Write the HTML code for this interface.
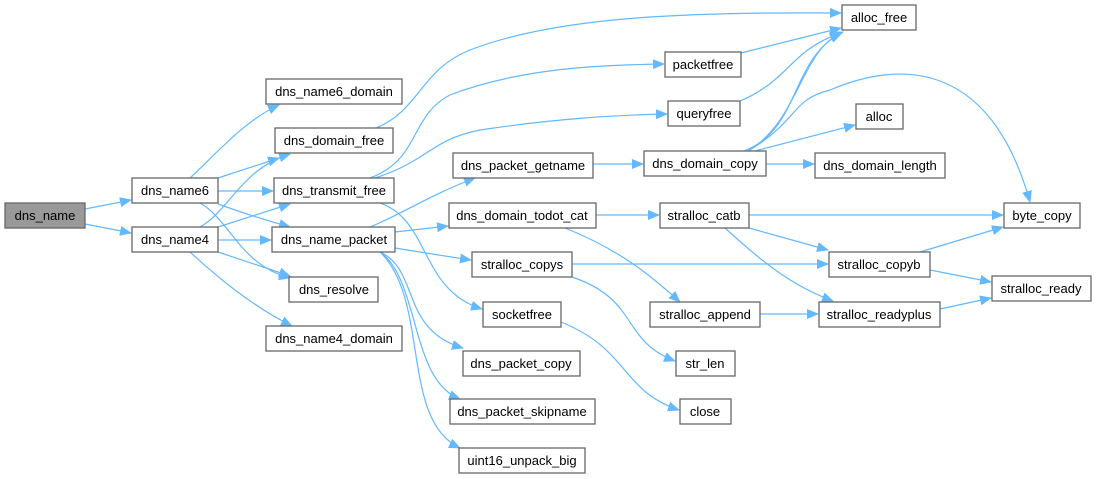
<!DOCTYPE html>
<html><head><meta charset="utf-8"><style>
html,body{margin:0;padding:0;background:#fff;width:1096px;height:479px;overflow:hidden}
svg text{font-family:"Liberation Sans",sans-serif;font-size:13px;fill:#000;text-anchor:middle}
.b{fill:#fff;stroke:#666;stroke-width:1.3}
.e{fill:none;stroke:#63b8ff;stroke-width:1.2}
</style></head><body>
<svg width="1096" height="479" xmlns="http://www.w3.org/2000/svg">
<defs><marker id="a" markerWidth="12" markerHeight="10" refX="11" refY="5" orient="auto" markerUnits="userSpaceOnUse"><path d="M0,0 L12,5 L0,10z" fill="#63b8ff"/></marker></defs>
<g class="e" marker-end="url(#a)">
<path d="M85,209 L131,200"/>
<path d="M85,224 L131,233"/>
<path d="M190,178 C215,155 245,120 279,105"/>
<path d="M218,178 L279,158"/>
<path d="M218,191 L273,191"/>
<path d="M218,204 C240,212 265,220 290,227"/>
<path d="M200,203 C230,220 240,265 290,278"/>
<path d="M200,227 C230,210 240,170 290,154"/>
<path d="M218,227 L290,204"/>
<path d="M218,240 L271,240"/>
<path d="M218,252 L290,276"/>
<path d="M190,252 C215,275 250,305 292,326"/>
<path d="M376,128 C420,110 420,70 470,50 C560,15 700,12 841,13"/>
<path d="M370,178 C420,160 410,115 450,95 C520,68 600,65 664,64"/>
<path d="M375,178 C430,160 430,140 480,130 C560,118 620,115 667,114"/>
<path d="M380,203 C430,220 420,290 482,309"/>
<path d="M370,227 C400,215 430,195 475,178"/>
<path d="M395,232 L448,226"/>
<path d="M395,248 C420,252 450,257 471,260"/>
<path d="M380,252 C420,270 400,330 463,348"/>
<path d="M380,252 C420,280 410,380 460,399"/>
<path d="M380,252 C430,300 400,420 460,448"/>
<path d="M741,53 L841,28"/>
<path d="M740,101 C790,80 790,50 841,33"/>
<path d="M593,164 L643,164"/>
<path d="M744,151 C800,130 790,60 841,33"/>
<path d="M748,151 C800,120 800,50 843,32"/>
<path d="M748,151 C800,120 790,100 830,90 C900,60 990,60 1030,202"/>
<path d="M755,151 L855,125"/>
<path d="M766,164 L814,164"/>
<path d="M596,215 L659,215"/>
<path d="M565,228 C620,250 650,275 680,302"/>
<path d="M749,215 L1003,215"/>
<path d="M749,228 L828,250"/>
<path d="M725,228 C760,260 790,285 833,301"/>
<path d="M572,264 L828,264"/>
<path d="M572,277 C640,300 620,340 675,361"/>
<path d="M920,252 L1003,227"/>
<path d="M930,270 L991,282"/>
<path d="M760,314 L818,314"/>
<path d="M940,309 L991,298"/>
<path d="M561,322 C630,350 620,390 679,410"/>
</g>
<rect x="5" y="203" width="80" height="25" fill="#999" stroke="#666" stroke-width="1.3"/><text x="45" y="220">dns_name</text>
<rect class="b" x="132" y="178" width="86" height="25"/><text x="175" y="195">dns_name6</text>
<rect class="b" x="132" y="227" width="86" height="25"/><text x="175" y="244">dns_name4</text>
<rect class="b" x="266" y="79" width="136" height="25"/><text x="334" y="96">dns_name6_domain</text>
<rect class="b" x="275" y="128" width="118" height="25"/><text x="334" y="145">dns_domain_free</text>
<rect class="b" x="274" y="178" width="120" height="25"/><text x="334" y="195">dns_transmit_free</text>
<rect class="b" x="272" y="227" width="123" height="25"/><text x="334" y="244">dns_name_packet</text>
<rect class="b" x="289" y="277" width="89" height="25"/><text x="334" y="294">dns_resolve</text>
<rect class="b" x="266" y="326" width="136" height="25"/><text x="334" y="343">dns_name4_domain</text>
<rect class="b" x="842" y="5" width="74" height="25"/><text x="879" y="22">alloc_free</text>
<rect class="b" x="665" y="52" width="76" height="25"/><text x="703" y="69">packetfree</text>
<rect class="b" x="668" y="101" width="72" height="25"/><text x="704" y="118">queryfree</text>
<rect class="b" x="453" y="153" width="140" height="25"/><text x="523" y="170">dns_packet_getname</text>
<rect class="b" x="644" y="151" width="122" height="25"/><text x="705" y="168">dns_domain_copy</text>
<rect class="b" x="856" y="104" width="47" height="25"/><text x="879" y="121">alloc</text>
<rect class="b" x="815" y="153" width="130" height="25"/><text x="880" y="170">dns_domain_length</text>
<rect class="b" x="449" y="203" width="147" height="25"/><text x="522" y="220">dns_domain_todot_cat</text>
<rect class="b" x="660" y="203" width="89" height="25"/><text x="704" y="220">stralloc_catb</text>
<rect class="b" x="1004" y="203" width="76" height="25"/><text x="1042" y="220">byte_copy</text>
<rect class="b" x="472" y="252" width="100" height="25"/><text x="522" y="269">stralloc_copys</text>
<rect class="b" x="829" y="252" width="101" height="25"/><text x="879" y="269">stralloc_copyb</text>
<rect class="b" x="992" y="276" width="99" height="25"/><text x="1041" y="293">stralloc_ready</text>
<rect class="b" x="483" y="302" width="78" height="25"/><text x="522" y="319">socketfree</text>
<rect class="b" x="650" y="302" width="110" height="25"/><text x="705" y="319">stralloc_append</text>
<rect class="b" x="819" y="302" width="121" height="25"/><text x="879" y="319">stralloc_readyplus</text>
<rect class="b" x="676" y="351" width="59" height="25"/><text x="705" y="368">str_len</text>
<rect class="b" x="463" y="351" width="117" height="25"/><text x="521" y="368">dns_packet_copy</text>
<rect class="b" x="680" y="399" width="51" height="25"/><text x="705" y="416">close</text>
<rect class="b" x="450" y="399" width="145" height="25"/><text x="522" y="416">dns_packet_skipname</text>
<rect class="b" x="459" y="448" width="126" height="25"/><text x="522" y="465">uint16_unpack_big</text>
</svg>
</body></html>
